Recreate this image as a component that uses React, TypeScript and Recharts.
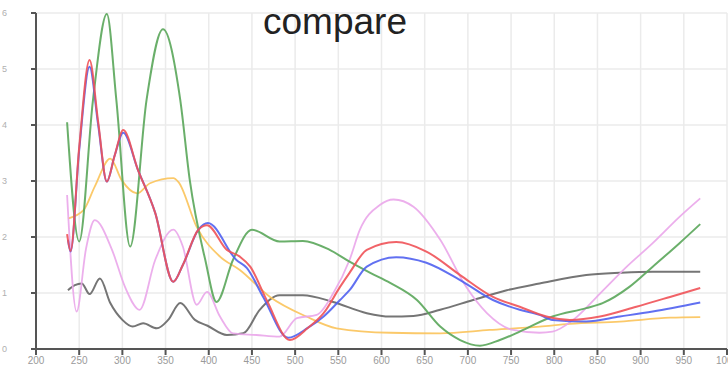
import React from 'react';
import { LineChart, Line, XAxis, YAxis, CartesianGrid } from 'recharts';

// wavelength ticks
const X_TICKS = [200, 250, 300, 350, 400, 450, 500, 550, 600, 650, 700, 750, 800, 850, 900, 950, 1000];
const Y_TICKS = [0, 1, 2, 3, 4, 5, 6];

const GREEN_W = [236, 250, 266, 282, 293, 309, 328, 347, 367, 378, 396, 409, 428, 450, 482, 509, 540, 563, 587, 610, 641, 668, 691, 714, 737, 760, 798, 837, 856, 887, 914, 945, 969];
const GREEN_V = [4.05, 1.92, 4.45, 5.98, 4.45, 1.83, 4.45, 5.71, 4.45, 3.02, 1.59, 0.84, 1.59, 2.13, 1.92, 1.93, 1.77, 1.56, 1.36, 1.18, 0.875, 0.4, 0.16, 0.06, 0.16, 0.31, 0.58, 0.73, 0.82, 1.11, 1.47, 1.89, 2.23];

const RED_W = [236, 240, 250, 262, 272, 282, 291, 301, 318, 338, 359, 370, 388, 398, 421, 436, 448, 467, 494, 515, 533, 552, 563, 583, 617, 652, 691, 729, 760, 791, 818, 853, 895, 934, 969];
const RED_V = [2.05, 1.75, 3.6, 5.16, 4.05, 2.99, 3.45, 3.91, 3.2, 2.43, 1.2, 1.5, 2.13, 2.21, 1.77, 1.65, 1.47, 0.875, 0.16, 0.38, 0.64, 1.11, 1.36, 1.77, 1.91, 1.74, 1.32, 0.93, 0.755, 0.58, 0.52, 0.58, 0.755, 0.93, 1.09];

const BLUE_W = [237, 240, 250, 262, 272, 282, 291, 301, 318, 338, 359, 370, 388, 399, 432, 444, 463, 492, 515, 533, 552, 563, 583, 617, 652, 691, 729, 760, 783, 798, 837, 876, 914, 969];
const BLUE_V = [1.95, 1.74, 3.55, 5.04, 4.0, 2.99, 3.45, 3.86, 3.2, 2.43, 1.2, 1.5, 2.13, 2.25, 1.59, 1.45, 0.93, 0.2, 0.38, 0.58, 0.875, 1.05, 1.47, 1.64, 1.54, 1.23, 0.875, 0.7, 0.61, 0.52, 0.49, 0.58, 0.67, 0.83];

const ORANGE_W = [237, 255, 268, 286, 299, 317, 332, 359, 365, 386, 413, 436, 471, 513, 548, 610, 668, 725, 783, 818, 876, 934, 969];
const ORANGE_V = [2.33, 2.48, 2.9, 3.4, 3.02, 2.78, 2.96, 3.05, 2.98, 2.18, 1.65, 1.41, 0.93, 0.58, 0.37, 0.29, 0.28, 0.34, 0.4, 0.45, 0.49, 0.56, 0.57];

const PINK_W = [236, 247, 258, 268, 288, 303, 320, 338, 359, 370, 386, 398, 413, 428, 455, 482, 502, 525, 544, 563, 575, 598, 614, 637, 668, 698, 722, 752, 783, 798, 822, 853, 884, 914, 945, 969];
const PINK_V = [2.75, 0.67, 1.8, 2.3, 1.77, 1.11, 0.7, 1.59, 2.13, 1.83, 0.79, 1.02, 0.58, 0.28, 0.25, 0.22, 0.55, 0.61, 0.99, 1.59, 2.13, 2.57, 2.67, 2.54, 1.95, 1.11, 0.64, 0.34, 0.29, 0.31, 0.52, 0.99, 1.47, 1.89, 2.36, 2.69];

const GREY_W = [237, 245, 253, 262, 274, 286, 300, 312, 324, 340, 353, 367, 384, 398, 421, 440, 459, 482, 509, 544, 583, 610, 637, 668, 706, 745, 783, 837, 876, 914, 969];
const GREY_V = [1.05, 1.14, 1.17, 0.98, 1.26, 0.82, 0.52, 0.4, 0.46, 0.37, 0.52, 0.82, 0.52, 0.42, 0.25, 0.28, 0.7, 0.96, 0.96, 0.84, 0.64, 0.58, 0.59, 0.7, 0.875, 1.05, 1.17, 1.32, 1.36, 1.38, 1.38];

const toPoints = (ws: number[], vs: number[]) => ws.map((w, i) => ({ w, v: vs[i] }));

const SERIES = [
  { key: 'grey', color: '#666666', width: 2, data: toPoints(GREY_W, GREY_V) },
  { key: 'orange', color: '#fbc35a', width: 1.8, data: toPoints(ORANGE_W, ORANGE_V) },
  { key: 'pink', color: '#eaa6ea', width: 1.8, data: toPoints(PINK_W, PINK_V) },
  { key: 'green', color: '#5aa65a', width: 2, data: toPoints(GREEN_W, GREEN_V) },
  { key: 'blue', color: '#5060f0', width: 2, data: toPoints(BLUE_W, BLUE_V) },
  { key: 'red', color: '#f05258', width: 2, data: toPoints(RED_W, RED_V) },
];

export default function App() {
  return (
    <div style={{ position: 'absolute', left: 0, top: 0, width: 728, height: 369, background: '#fff' }}>
      <LineChart width={728} height={369} margin={{ top: 13, right: 1, left: 0, bottom: 0 }}>
        <CartesianGrid stroke="#ebebeb" strokeWidth={1.5} />
        <XAxis
          type="number"
          dataKey="w"
          domain={[200, 1000]}
          ticks={X_TICKS}
          interval={0}
          height={20}
          stroke="#555"
          strokeWidth={2}
          tickSize={6}
          tick={{ fontSize: 10, fill: '#9a9a9a', fontFamily: 'Arial, Liberation Sans' }}
          allowDataOverflow
        />
        <YAxis
          type="number"
          domain={[0, 6]}
          ticks={Y_TICKS}
          width={36}
          stroke="#555"
          strokeWidth={2}
          tickSize={5}
          tickMargin={24}
          tick={{ fontSize: 9, fill: '#b0b0b0', fontFamily: 'Arial, Liberation Sans' }}
        />
        {SERIES.map((s) => (
          <Line
            key={s.key}
            data={s.data}
            dataKey="v"
            type="monotone"
            stroke={s.color}
            strokeWidth={s.width}
            strokeOpacity={0.9}
            dot={false}
            isAnimationActive={false}
          />
        ))}
      </LineChart>
      <div
        style={{
          position: 'absolute',
          left: 263,
          top: 3,
          fontFamily: 'Arial, "Liberation Sans", sans-serif',
          fontSize: 37,
          lineHeight: '37px',
          color: '#222',
          whiteSpace: 'nowrap',
        }}
      >
        compare
      </div>
    </div>
  );
}
